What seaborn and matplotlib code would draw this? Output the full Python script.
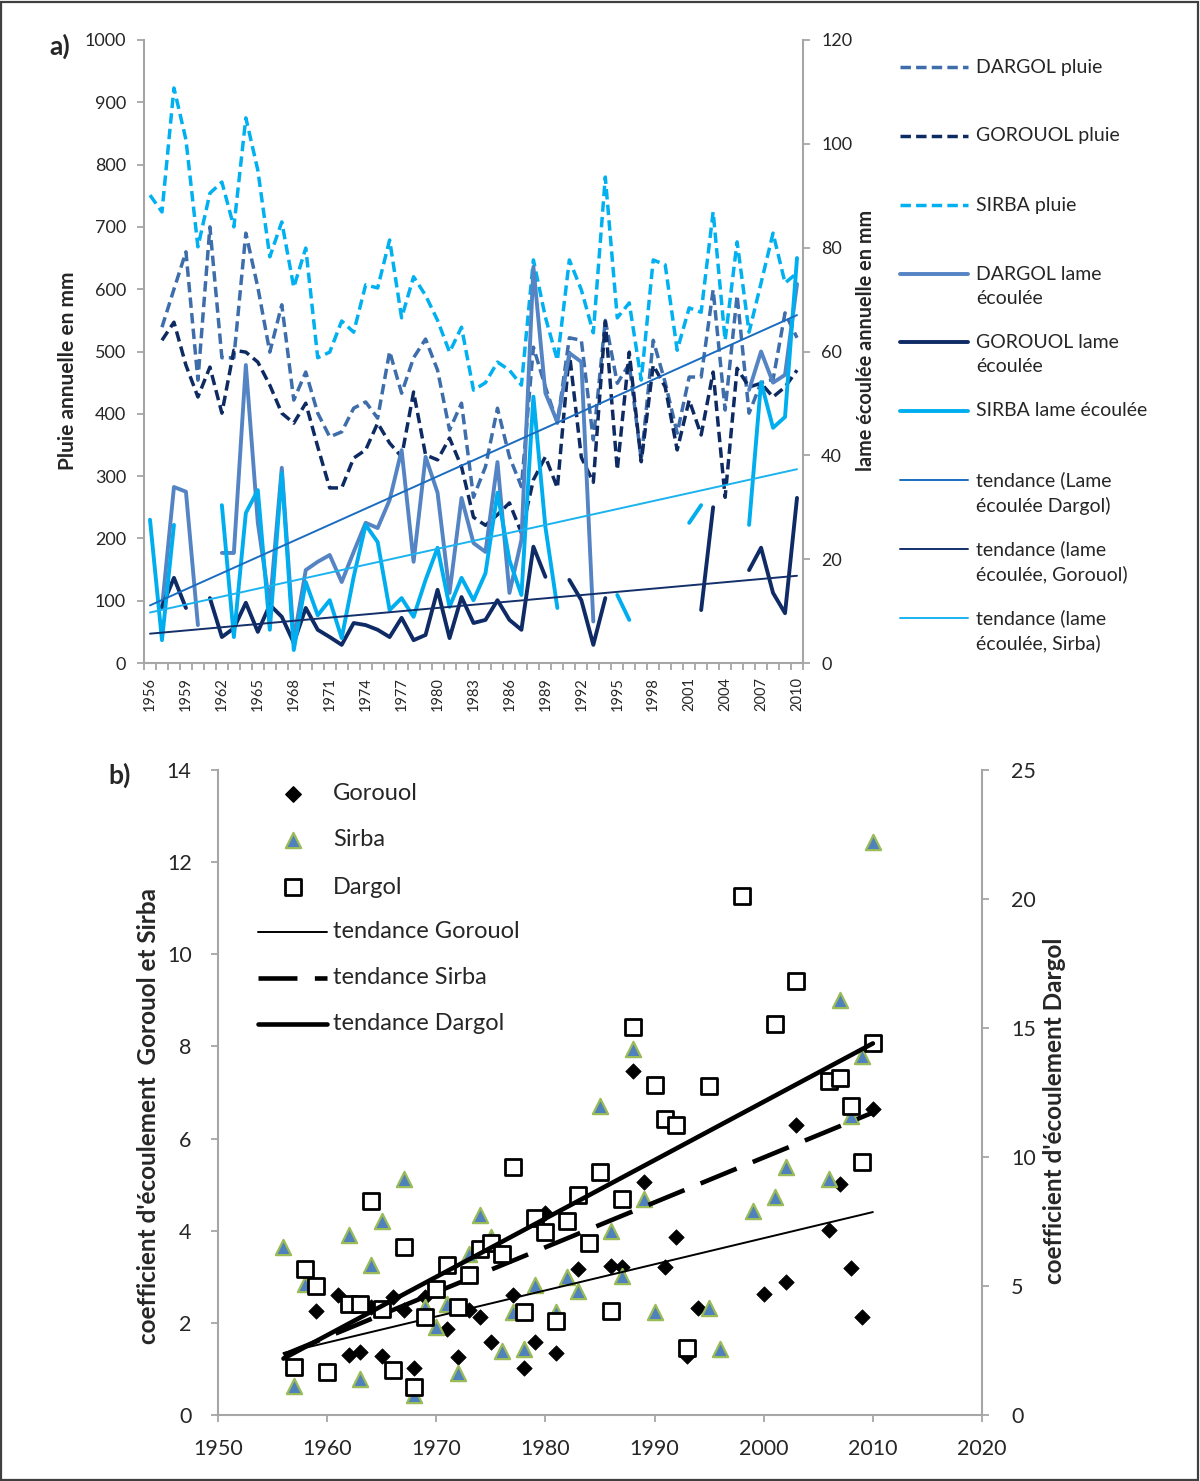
import numpy as np
import pandas as pd
import matplotlib
matplotlib.use('Agg')
import matplotlib.pyplot as plt
from matplotlib.patches import Rectangle
import seaborn as sns

# ============================================================
# Data
# ============================================================
nan = np.nan
years_a = list(range(1956, 2011))

# annual rainfall (mm), left axis of a)
sirba_pluie = [751, 724, 923, 840, 668, 754, 772, 700, 875, 791,
               652, 708, 603, 666, 490, 499, 549, 531, 607, 602,
               679, 554, 620, 590, 550, 499, 539, 438, 450, 483,
               470, 446, 647, 555, 486, 647, 599, 530, 780, 554,
               578, 454, 647, 639, 502, 570, 563, 724, 518, 676,
               531, 610, 690, 610, 626]
dargol_pluie = [nan, 539, 600, 660, 454, 700, 490, 490, 690, 603,
                499, 575, 422, 467, 401, 363, 371, 409, 419, 393,
                500, 433, 490, 520, 470, 374, 417, 266, 315, 409,
                331, 283, 507, 443, 385, 522, 518, 358, 550, 449,
                480, 326, 518, 450, 369, 459, 459, 599, 406, 590,
                401, 450, 455, 562, 522]
gorouol_pluie = [nan, 518, 547, 478, 427, 475, 401, 502, 499, 483,
                 446, 401, 385, 417, 347, 281, 281, 329, 342, 385,
                 353, 331, 435, 334, 326, 361, 315, 234, 221, 238,
                 257, 209, 294, 331, 281, 498, 330, 290, 548, 310,
                 499, 323, 478, 443, 342, 422, 366, 467, 266, 473,
                 443, 449, 427, 443, 470]

# annual runoff depth (mm), right axis of a)
# (isolated years have no neighbour and so draw no visible segment)
dargol_lame = [nan, 10.6, 33.9, 33.0, 7.3, nan, 21.2, 21.2, 57.4, 27.0,
               11.0, 37.6, 4.4, 17.9, 19.5, 20.8, 15.6, 21.4, 27.0, 26.0,
               31.4, 41.0, 19.5, 39.7, 32.8, 13.5, 31.8, 23.1, 21.4, 38.7,
               13.5, 23.7, 76.3, 52.0, 46.4, 59.7, 58.0, 8.0, nan, 57.0,
               nan, nan, 104.0, nan, nan, 70.0, nan, 101.0, nan, nan,
               52.6, 60.0, 54.0, 55.5, 73.0]
gorouol_lame = [nan, 10.8, 16.4, 10.6, nan, 12.5, 5.0, 6.7, 11.6, 6.0,
                11.2, 8.9, 3.9, 10.6, 6.4, 5.0, 3.5, 7.7, 7.3, 6.4,
                5.0, 8.7, 4.4, 5.4, 14.1, 4.8, 12.7, 7.7, 8.3, 12.1,
                8.3, 6.4, 22.4, 16.6, nan, 16.0, 12.1, 3.5, 12.5, nan,
                nan, nan, nan, nan, 9.0, nan, 10.2, 30.0, nan, nan,
                17.9, 22.2, 13.5, 9.6, 31.8]
sirba_lame = [27.6, 4.4, 26.6, nan, nan, nan, 30.4, 5.0, 28.9, 33.3,
              6.4, 36.6, 2.5, 15.6, 9.2, 12.1, 4.8, 16.6, 26.6, 23.3,
              10.2, 12.5, 8.9, 16.0, 22.2, 10.8, 16.4, 12.1, 17.3, 32.8,
              19.8, 13.1, 51.3, 26.2, 10.6, nan, nan, nan, nan, 13.1,
              8.3, nan, nan, 28.0, nan, 27.0, 30.4, nan, nan, nan,
              26.6, 54.1, 45.3, 47.4, 78.0]

# runoff coefficients, panel b)
gor_years = [1959, 1961, 1962, 1963, 1964, 1965, 1966, 1967, 1968, 1969,
             1971, 1972, 1973, 1974, 1975, 1977, 1978, 1979, 1980, 1981,
             1983, 1986, 1987, 1988, 1989, 1991, 1992, 1993, 1994, 2000,
             2002, 2003, 2006, 2007, 2008, 2009, 2010]
gor_coef = [2.26, 2.60, 1.30, 1.37, 2.35, 1.28, 2.57, 2.28, 1.02, 2.57,
            1.87, 1.25, 2.28, 2.13, 1.58, 2.60, 1.02, 1.58, 4.38, 1.35,
            3.16, 3.24, 3.22, 7.47, 5.06, 3.22, 3.87, 1.27, 2.33, 2.63,
            2.88, 6.30, 4.02, 5.01, 3.20, 2.13, 6.65]
sir_years = [1956, 1957, 1958, 1962, 1963, 1964, 1965, 1967, 1968, 1969,
             1970, 1971, 1972, 1973, 1974, 1975, 1976, 1977, 1978, 1979,
             1981, 1982, 1983, 1985, 1986, 1987, 1988, 1989, 1990, 1995,
             1996, 1999, 2001, 2002, 2006, 2007, 2008, 2009, 2010]
sir_coef = [3.65, 0.63, 2.84, 3.90, 0.78, 3.26, 4.21, 5.12, 0.43, 2.35,
            1.91, 2.41, 0.91, 3.49, 4.34, 3.87, 1.40, 2.23, 1.43, 2.82,
            2.23, 2.99, 2.70, 6.71, 3.99, 3.02, 7.94, 4.69, 2.23, 2.32,
            1.43, 4.43, 4.74, 5.39, 5.12, 9.00, 6.49, 7.80, 12.44]
dar_years = [1957, 1958, 1959, 1960, 1962, 1963, 1964, 1965, 1966, 1967,
             1968, 1969, 1970, 1971, 1972, 1973, 1974, 1975, 1976, 1977,
             1978, 1979, 1980, 1981, 1982, 1983, 1984, 1985, 1986, 1987,
             1988, 1990, 1991, 1992, 1993, 1995, 1998, 2001, 2003, 2006,
             2007, 2008, 2009, 2010]
dar_coef = [1.85, 5.65, 5.00, 1.65, 4.29, 4.30, 8.31, 4.10, 1.74, 6.52,
            1.07, 3.81, 4.87, 5.81, 4.20, 5.43, 6.43, 6.68, 6.23, 9.60,
            3.98, 7.64, 7.08, 3.66, 7.53, 8.53, 6.68, 9.41, 4.04, 8.36,
            15.03, 12.79, 11.47, 11.24, 2.58, 12.76, 20.13, 15.15, 16.81, 12.93,
            13.07, 11.99, 9.80, 14.41]

# ============================================================
# Style
# ============================================================
sns.set_theme(style='ticks')
plt.rcParams['font.family'] = ['Lato', 'DejaVu Sans']

GREY = '#A6A6A6'
C_DP = '#3D6DAA'   # Dargol pluie
C_GP = '#0E2A62'   # Gorouol pluie
C_SP = '#00B0F0'   # Sirba pluie
C_DL = '#5484C3'   # Dargol lame
C_GL = '#0F2B66'
C_SL = '#00AEEF'
C_TD = '#1A6CC0'
C_TG = '#13306B'
C_TS = '#1AB3F0'

LW_P = 2.5   # dashed rainfall lines
LW_L = 2.8   # runoff lines
LW_T = 1.4   # trend lines

W, H = 1200, 1481
fig = plt.figure(figsize=(W / 100, H / 100), dpi=100)


def frac_box(x0, y0, x1, y1):
    return [x0 / W, 1 - y1 / H, (x1 - x0) / W, (y1 - y0) / H]


def seg_frame(vals):
    df = pd.DataFrame({'year': years_a, 'val': vals})
    df['seg'] = df['val'].isna().cumsum()
    return df.dropna()


def trend(xs, ys, x_span):
    xs = np.asarray(xs, float)
    ys = np.asarray(ys, float)
    ok = ~np.isnan(ys)
    k, b = np.polyfit(xs[ok], ys[ok], 1)
    xx = np.array(x_span, float)
    return pd.DataFrame({'x': xx, 'y': k * xx + b})


# ============================================================
# Panel a)
# ============================================================
axA = fig.add_axes(frac_box(144, 40, 803, 663))
axA2 = axA.twinx()

DASH = (0, (3.0, 1.5))
for vals, col in [(dargol_pluie, C_DP), (gorouol_pluie, C_GP), (sirba_pluie, C_SP)]:
    sns.lineplot(data=seg_frame(vals), x='year', y='val', units='seg', estimator=None,
                 sort=False, ax=axA, color=col, lw=LW_P, linestyle=DASH)

for vals, col in [(dargol_lame, C_DL), (gorouol_lame, C_GL), (sirba_lame, C_SL)]:
    sns.lineplot(data=seg_frame(vals), x='year', y='val', units='seg', estimator=None,
                 sort=False, ax=axA2, color=col, lw=LW_L)

for vals, col in [(dargol_lame, C_TD), (gorouol_lame, C_TG), (sirba_lame, C_TS)]:
    t = trend(years_a, vals, [1956, 2010])
    sns.lineplot(data=t, x='x', y='y', ax=axA2, color=col, lw=LW_T)

axA.set_xlim(1955.5, 2010.5)
axA.set_ylim(0, 1000)
axA2.set_ylim(0, 120)
axA.set_yticks(range(0, 1001, 100))
axA2.set_yticks(range(0, 121, 20))
axA.set_xticks(range(1956, 2011, 3))
axA.set_xticks(np.arange(1955.5, 2011, 1), minor=True)
axA.set_xlabel('')
axA.set_ylabel('')
axA2.set_ylabel('')
axA.tick_params(axis='x', which='major', length=0, pad=10, labelsize=10.5, labelrotation=90)
axA.tick_params(axis='x', which='minor', length=5, width=1.3, color=GREY, direction='out')
axA.tick_params(axis='y', length=5, width=1.3, color=GREY, labelsize=13, pad=8, direction='out')
axA2.tick_params(axis='y', length=5, width=1.3, color=GREY, labelsize=13, pad=8, direction='out')

for ax in (axA, axA2):
    for s in ax.spines.values():
        s.set_color(GREY)
        s.set_linewidth(1.5)
    ax.spines['top'].set_visible(False)
axA.spines['right'].set_visible(False)
axA2.spines['left'].set_visible(False)
axA2.spines['bottom'].set_visible(False)

fig.text(68 / W, 1 - 371 / H, 'Pluie annuelle en mm', rotation=90, ha='center', va='center',
         fontsize=15, fontweight='bold')
fig.text(866 / W, 1 - 340 / H, 'lame écoulée annuelle en mm', rotation=90, ha='center',
         va='center', fontsize=14.3, fontweight='bold')
fig.text(60 / W, 1 - 46 / H, 'a)', ha='center', va='center', fontsize=19, fontweight='bold')

# ============================================================
# Panel b)
# ============================================================
axB = fig.add_axes(frac_box(218, 770, 982, 1415))
axB2 = axB.twinx()

sns.scatterplot(x=gor_years, y=gor_coef, ax=axB, marker='D', s=62, color='black',
                edgecolor='black', linewidth=0.5, zorder=3)
sns.scatterplot(x=sir_years, y=sir_coef, ax=axB, marker='^', s=120, color='#4F81BD',
                edgecolor='#9BBB59', linewidth=1.6, zorder=3)
sns.scatterplot(x=dar_years, y=dar_coef, ax=axB2, marker='s', s=125, color='white',
                edgecolor='black', linewidth=2.0, zorder=3)

tg = trend(gor_years, gor_coef, [1956, 2010])
ts = trend(sir_years, sir_coef, [1956, 2010])
td = trend(dar_years, dar_coef, [1956, 2010])
sns.lineplot(data=tg, x='x', y='y', ax=axB, color='black', lw=1.4, zorder=4)
sns.lineplot(data=ts, x='x', y='y', ax=axB, color='black', lw=3.3, zorder=4,
             linestyle=(0, (8.5, 3.8)))
sns.lineplot(data=td, x='x', y='y', ax=axB2, color='black', lw=3.3, zorder=4)

axB.set_xlim(1950, 2020)
axB.set_ylim(0, 14)
axB2.set_ylim(0, 25)
axB.set_xticks(range(1950, 2021, 10))
axB.set_yticks(range(0, 15, 2))
axB2.set_yticks(range(0, 26, 5))
axB.set_xlabel('')
axB.set_ylabel('')
axB2.set_ylabel('')
axB.tick_params(axis='x', length=5, width=1.3, color=GREY, labelsize=15.5, pad=12)
axB.tick_params(axis='y', length=5, width=1.3, color=GREY, labelsize=15.5, pad=14)
axB2.tick_params(axis='y', length=5, width=1.3, color=GREY, labelsize=15.5, pad=16)
for ax in (axB, axB2):
    for s in ax.spines.values():
        s.set_color(GREY)
        s.set_linewidth(1.5)
    ax.spines['top'].set_visible(False)
axB.spines['right'].set_visible(False)
axB2.spines['left'].set_visible(False)
axB2.spines['bottom'].set_visible(False)

fig.text(148 / W, 1 - 1116 / H, "coefficient d'écoulement  Gorouol et Sirba", rotation=90,
         ha='center', va='center', fontsize=17.5, fontweight='bold')
fig.text(1055 / W, 1 - 1111 / H, "coefficient d'écoulement Dargol", rotation=90,
         ha='center', va='center', fontsize=17.5, fontweight='bold')
fig.text(120 / W, 1 - 775 / H, 'b)', ha='center', va='center', fontsize=19, fontweight='bold')

# ============================================================
# Legends (drawn on an overlay in pixel coordinates)
# ============================================================
lg = fig.add_axes([0, 0, 1, 1], zorder=5)
lg.set_xlim(0, W)
lg.set_ylim(H, 0)
lg.axis('off')

legA = [
    ('DARGOL pluie', 67, C_DP, LW_P, DASH, 1),
    ('GOROUOL pluie', 136, C_GP, LW_P, DASH, 1),
    ('SIRBA pluie', 205, C_SP, LW_P, DASH, 1),
    ('DARGOL lame\nécoulée', 274, C_DL, LW_L, '-', 2),
    ('GOROUOL lame\nécoulée', 342, C_GL, LW_L, '-', 2),
    ('SIRBA lame écoulée', 411, C_SL, LW_L, '-', 1),
    ('tendance (Lame\nécoulée Dargol)', 480, C_TD, LW_T, '-', 2),
    ('tendance (lame\nécoulée, Gorouol)', 549, C_TG, LW_T, '-', 2),
    ('tendance (lame\nécoulée, Sirba)', 618, C_TS, LW_T, '-', 2),
]
for label, y, col, lw, ls, nl in legA:
    lg.plot([900, 968], [y, y], color=col, lw=lw, linestyle=ls)
    yc = y + (13 if nl == 2 else 0)
    lg.text(976, yc, label, ha='left', va='center', fontsize=14, linespacing=1.5)

lg.scatter([293], [794], marker='D', s=62, color='black')
lg.scatter([293], [840], marker='^', s=120, color='#4F81BD', edgecolor='#9BBB59', linewidth=1.6)
lg.scatter([293], [887], marker='s', s=125, color='white', edgecolor='black', linewidth=2.0)
lg.plot([258, 327], [932, 932], color='black', lw=1.4)
lg.plot([258, 327], [978, 978], color='black', lw=3.3, linestyle=(0, (8.5, 3.8)))
lg.plot([258, 327], [1024, 1024], color='black', lw=3.3)
for label, y in [('Gorouol', 794), ('Sirba', 840), ('Dargol', 887), ('tendance Gorouol', 932),
                 ('tendance Sirba', 978), ('tendance Dargol', 1024)]:
    lg.text(333, y, label, ha='left', va='center', fontsize=17)

fig.patches.append(Rectangle((1 / W, 1 / H), 1 - 3 / W, 1 - 3 / H, transform=fig.transFigure,
                             fill=False, ec='#3F3F3F', lw=1.6))

fig.savefig('out.png', dpi=100)
